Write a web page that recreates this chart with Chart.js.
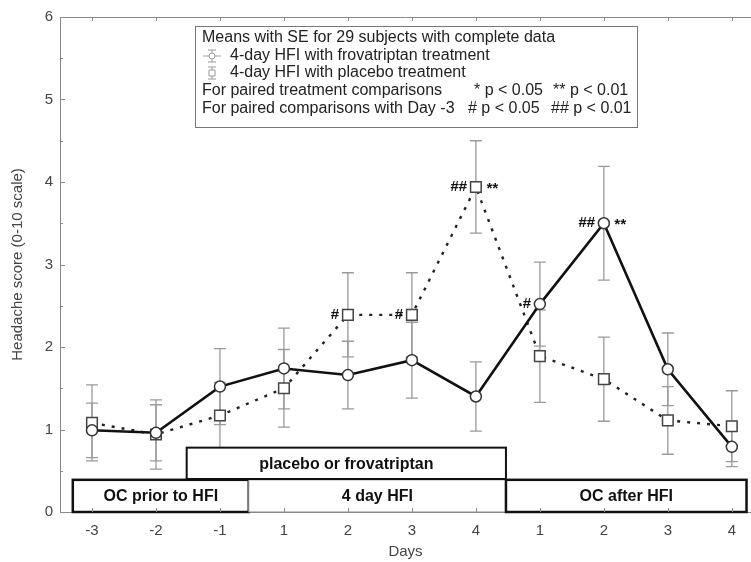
<!DOCTYPE html>
<html>
<head>
<meta charset="utf-8">
<script src="https://cdn.jsdelivr.net/npm/chart.js@4.4.0/dist/chart.umd.min.js"></script>
<style>
  html, body { margin: 0; padding: 0; background: #fff; overflow: hidden; }
  #wrap { width: 751px; height: 562px; position: relative; }
</style>
</head>
<body>
<div id="wrap"><canvas id="chart" width="751" height="562"></canvas></div>
<script>
// Day labels along the x axis
const dayLabels = ['-3', '-2', '-1', '1', '2', '3', '4', '1', '2', '3', '4'];

// Frovatriptan (circles, solid line)
const frovaMean = [0.99, 0.96, 1.52, 1.74, 1.66, 1.84, 1.40, 2.52, 3.50, 1.73, 0.79];
const frovaSE = [0.33, 0.34, 0.46, 0.49, 0.41, 0.46, 0.42, 0.51, 0.69, 0.44, 0.24];

// Placebo (squares, dotted line)
const placeboMean = [1.08, 0.94, 1.17, 1.50, 2.39, 2.39, 3.94, 1.89, 1.61, 1.11, 1.04];
const placeboSE = [0.46, 0.42, 0.40, 0.47, 0.51, 0.51, 0.56, 0.56, 0.51, 0.41, 0.43];

// Significance marks: dataset index, day index, text, side
const sigMarks = [
    [1, 4, '#', 'left'],
    [1, 5, '#', 'left'],
    [1, 6, '##', 'left'],
    [1, 6, '**', 'right'],
    [0, 7, '#', 'left'],
    [0, 8, '##', 'left'],
    [0, 8, '**', 'right']
];

// Period boxes under the curves: [x from, x to, y from, y to, label, border width]
const periodBoxes = [
    [-0.30, 2.45, 0, 0.39, 'OC prior to HFI', 2.5],
    [2.45, 6.47, 0, 0.39, '4 day HFI', 1],
    [6.47, 10.23, 0, 0.39, 'OC after HFI', 2.5],
    [1.48, 6.47, 0.4, 0.78, 'placebo or frovatriptan', 2]
];

const FONT = '"Liberation Sans", Arial, sans-serif';
const toXY = (arr) => arr.map((v, i) => ({ x: i, y: v }));

// Draw boxes, error bars, frame ticks
const extrasPlugin = {
    id: 'extras',
    beforeDatasetsDraw(chart) {
        const { ctx, chartArea, scales } = chart;
        const xs = scales.x, ys = scales.y;
        ctx.save();

        // error bars
        ctx.strokeStyle = '#9a9a9a';
        ctx.lineWidth = 1.3;
        [[frovaMean, frovaSE], [placeboMean, placeboSE]].forEach(([m, se]) => {
            m.forEach((v, i) => {
                const x = xs.getPixelForValue(i);
                const yt = ys.getPixelForValue(v + se[i]);
                const yb = ys.getPixelForValue(v - se[i]);
                ctx.beginPath();
                ctx.moveTo(x, yt); ctx.lineTo(x, yb);
                ctx.moveTo(x - 6, yt); ctx.lineTo(x + 6, yt);
                ctx.moveTo(x - 6, yb); ctx.lineTo(x + 6, yb);
                ctx.stroke();
            });
        });

        // period boxes
        periodBoxes.forEach(([x0, x1, y0, y1, label, bw]) => {
            const l = xs.getPixelForValue(x0), r = xs.getPixelForValue(x1);
            const t = ys.getPixelForValue(y1), b = ys.getPixelForValue(y0);
            ctx.fillStyle = '#fff';
            ctx.fillRect(l, t, r - l, b - t);
            ctx.strokeStyle = bw > 1.5 ? '#111' : '#888';
            ctx.lineWidth = bw;
            ctx.strokeRect(l, t, r - l, b - t);
            ctx.fillStyle = '#111';
            ctx.font = 'bold 16px ' + FONT;
            ctx.textAlign = 'center';
            ctx.textBaseline = 'middle';
            ctx.fillText(label, (l + r) / 2, (t + b) / 2 + 1);
        });

        // frame: top line and inward ticks
        ctx.strokeStyle = '#8a8a8a';
        ctx.lineWidth = 1;
        ctx.beginPath();
        ctx.moveTo(chartArea.left, chartArea.top + 0.5);
        ctx.lineTo(chartArea.right, chartArea.top + 0.5);
        dayLabels.forEach((_, i) => {
            const x = Math.round(xs.getPixelForValue(i)) + 0.5;
            ctx.moveTo(x, chartArea.bottom); ctx.lineTo(x, chartArea.bottom - 4);
            ctx.moveTo(x, chartArea.top); ctx.lineTo(x, chartArea.top + 4);
        });
        for (let v = 0; v <= 6; v += 0.5) {
            const y = Math.round(ys.getPixelForValue(v)) + 0.5;
            ctx.moveTo(chartArea.left, y); ctx.lineTo(chartArea.left + (v % 1 ? 3 : 5), y);
        }
        ctx.stroke();
        ctx.restore();
    },
    afterDatasetsDraw(chart) {
        const { ctx, scales } = chart;
        ctx.save();
        ctx.fillStyle = '#111';
        ctx.font = 'bold italic 15px ' + FONT;
        ctx.textBaseline = 'middle';
        sigMarks.forEach(([ds, i, text, side]) => {
            const v = ds === 0 ? frovaMean[i] : placeboMean[i];
            const x = scales.x.getPixelForValue(i);
            const y = scales.y.getPixelForValue(v);
            if (side === 'left') {
                ctx.textAlign = 'right';
                ctx.fillText(text, x - 9, y);
            } else {
                ctx.textAlign = 'left';
                ctx.fillText(text, x + 10, y + 2);
            }
        });

        // legend box
        ctx.strokeStyle = '#777';
        ctx.lineWidth = 1;
        ctx.strokeRect(195.5, 26.5, 442, 101);
        ctx.font = '16px ' + FONT;
        ctx.fillStyle = '#222';
        ctx.textAlign = 'left';
        const rows = [38, 56, 73, 91, 109];
        ctx.fillText('Means with SE for 29 subjects with complete data', 202, rows[0]);
        ctx.fillText('4-day HFI with frovatriptan treatment', 230, rows[1]);
        ctx.fillText('4-day HFI with placebo treatment', 230, rows[2]);
        ctx.fillText('For paired treatment comparisons', 202, rows[3]);
        ctx.fillText('* p < 0.05', 474, rows[3]);
        ctx.fillText('** p < 0.01', 553, rows[3]);
        ctx.fillText('For paired comparisons with Day -3', 202, rows[4]);
        ctx.fillText('# p < 0.05', 468, rows[4]);
        ctx.fillText('## p < 0.01', 551, rows[4]);

        // legend icons
        [1, 2].forEach((k) => {
            const cx = 212, cy = rows[k];
            ctx.strokeStyle = '#999';
            ctx.lineWidth = 1;
            ctx.beginPath();
            ctx.moveTo(cx, cy - 6); ctx.lineTo(cx, cy + 6);
            ctx.moveTo(cx - 4, cy - 6); ctx.lineTo(cx + 4, cy - 6);
            ctx.moveTo(cx - 4, cy + 6); ctx.lineTo(cx + 4, cy + 6);
            if (k === 1) { ctx.moveTo(cx - 9, cy); ctx.lineTo(cx + 9, cy); }
            ctx.stroke();
            ctx.fillStyle = '#fff';
            ctx.beginPath();
            if (k === 1) ctx.arc(cx, cy, 3, 0, Math.PI * 2);
            else ctx.rect(cx - 3, cy - 3, 6, 6);
            ctx.fill();
            ctx.stroke();
        });
        ctx.restore();
    }
};

new Chart(document.getElementById('chart'), {
    type: 'line',
    data: {
        datasets: [
            {
                label: '4-day HFI with frovatriptan treatment',
                data: toXY(frovaMean),
                borderColor: '#111',
                borderWidth: 2.6,
                pointStyle: 'circle',
                pointRadius: 5.5,
                pointBackgroundColor: '#fff',
                pointBorderColor: '#333',
                pointBorderWidth: 1.5,
                tension: 0
            },
            {
                label: '4-day HFI with placebo treatment',
                data: toXY(placeboMean),
                borderColor: '#222',
                borderWidth: 2.4,
                borderDash: [3, 7],
                pointStyle: 'rect',
                pointRadius: 7.5,
                pointBackgroundColor: '#fff',
                pointBorderColor: '#444',
                pointBorderWidth: 1.5,
                tension: 0
            }
        ]
    },
    options: {
        responsive: false,
        animation: false,
        layout: { autoPadding: false, padding: { top: 17, right: 0, left: 0, bottom: 0 } },
        plugins: {
            legend: { display: false },
            tooltip: { enabled: false }
        },
        scales: {
            x: {
                type: 'linear',
                min: -0.5,
                max: 10.3,
                afterBuildTicks: (scale) => {
                    scale.ticks = dayLabels.map((_, i) => ({ value: i }));
                },
                afterFit: (scale) => {
                    scale.height = 50;
                    scale.paddingLeft = 0;
                    scale.paddingRight = 0;
                },
                grid: { display: false, drawTicks: false },
                border: { display: true, color: '#8a8a8a', width: 1 },
                ticks: {
                    callback: (v) => dayLabels[v],
                    color: '#444',
                    font: { family: FONT, size: 15 },
                    padding: 10,
                    maxRotation: 0,
                    autoSkip: false
                },
                title: {
                    display: true,
                    text: 'Days',
                    color: '#444',
                    font: { family: FONT, size: 15 },
                    padding: { top: 0, bottom: 1 }
                }
            },
            y: {
                min: 0,
                max: 6,
                afterFit: (scale) => {
                    scale.width = 60;
                    scale.paddingTop = 0;
                    scale.paddingBottom = 0;
                },
                grid: { display: false, drawTicks: false },
                border: { display: true, color: '#8a8a8a', width: 1 },
                ticks: {
                    stepSize: 1,
                    color: '#444',
                    font: { family: FONT, size: 15 },
                    padding: 7
                },
                title: {
                    display: true,
                    text: 'Headache score (0-10 scale)',
                    color: '#444',
                    font: { family: FONT, size: 15 },
                    padding: { top: 9, bottom: 0 }
                }
            }
        }
    },
    plugins: [extrasPlugin]
});
</script>
</body>
</html>
